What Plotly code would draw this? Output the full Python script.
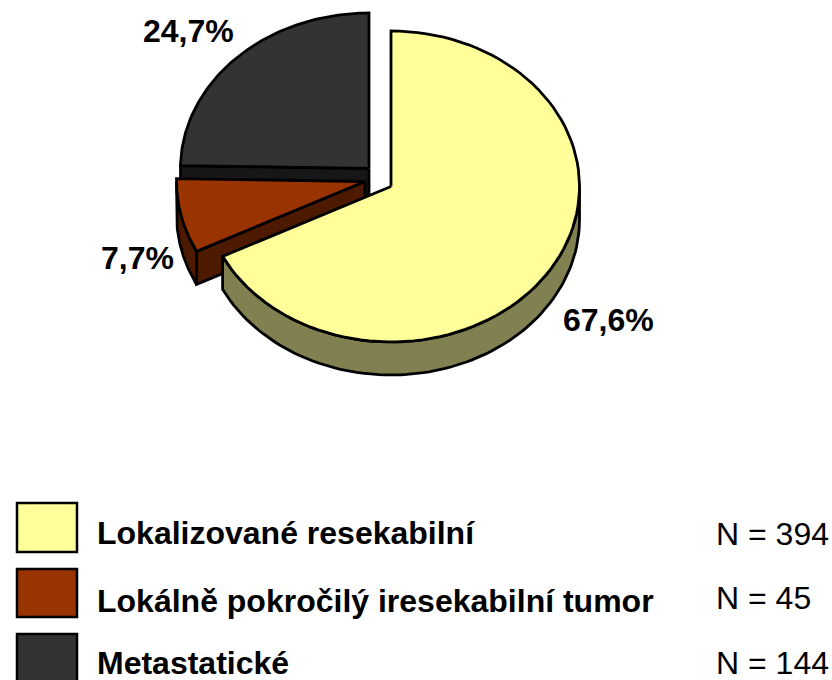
import math
import plotly.graph_objects as go

categories = ["Lokalizované resekabilní", "Lokálně pokročilý iresekabilní tumor", "Metastatické"]
counts = [394, 45, 144]
share_labels = ["67,6%", "7,7%", "24,7%"]
count_labels = ["N = 394", "N = 45", "N = 144"]
top_colors = ["#ffff99", "#993300", "#333333"]
side_colors = ["#808050", "#4d1a00", "#171717"]

RX, RY, DEPTH = 188.5, 155.5, 33
centres = [(391, 186.5), (365, 181.5), (369, 168.5)]
label_pos = [(608, 320), (137, 258), (188, 31)]
legend_rows = [(503, 552, 533, 534), (569, 617, 601, 598), (634, 690, 663, 663)]


def rim(c, a0, a1, dy=0, n=90):
    xs, ys = [], []
    for i in range(n + 1):
        t = math.radians(a0 + (a1 - a0) * i / n)
        xs.append(c[0] + RX * math.sin(t))
        ys.append(c[1] - RY * math.cos(t) + dy)
    return xs, ys


total = sum(counts)
bounds = [0]
for v in counts:
    bounds.append(bounds[-1] + 360 * v / total)

fig = go.Figure()


def poly(xs, ys, color):
    fig.add_trace(go.Scatter(x=xs + xs[:1], y=ys + ys[:1], mode="lines", fill="toself",
                             fillcolor=color, line=dict(color="black", width=2.8),
                             hoverinfo="skip", showlegend=False))


for i in (2, 1, 0):
    c, a0, a1 = centres[i], bounds[i], bounds[i + 1]
    # radial wall on the slice's start edge, when it faces the viewer
    if i in (1, 2):
        ex, ey = rim(c, a0, a0, n=1)
        poly([c[0], ex[0], ex[0], c[0]], [c[1], ey[0], ey[0] + DEPTH, c[1] + DEPTH], side_colors[i])
    # outer rim wall on the front half
    f0, f1 = max(a0, 90), min(a1, 270)
    if f1 > f0:
        tx, ty = rim(c, f0, f1)
        bx, by = rim(c, f1, f0, DEPTH)
        poly(tx + bx, ty + by, side_colors[i])
    # top face
    tx, ty = rim(c, a0, a1)
    poly([c[0]] + tx, [c[1]] + ty, top_colors[i])

ann = []
for (x, y), s in zip(label_pos, share_labels):
    ann.append(dict(x=x, y=y, text=f"<b>{s}</b>", showarrow=False, xanchor="center", yanchor="middle",
                    font=dict(family="Liberation Sans", size=32, color="black")))

shapes = []
for (top, bottom, ty, ny), name, n, col in zip(legend_rows, categories, count_labels, top_colors):
    shapes.append(dict(type="rect", x0=17, x1=77, y0=top, y1=bottom, xref="x", yref="y",
                       fillcolor=col, line=dict(color="black", width=2.5)))
    ann.append(dict(x=95, y=ty, text=f"<b>{name}</b>", showarrow=False, xanchor="left", yanchor="middle",
                    font=dict(family="Liberation Sans", size=32, color="black")))
    ann.append(dict(x=714, y=ny, text=n, showarrow=False, xanchor="left", yanchor="middle",
                    font=dict(family="Liberation Sans", size=32, color="black")))

fig.update_layout(width=832, height=680, margin=dict(l=0, r=0, t=0, b=0),
                  paper_bgcolor="white", plot_bgcolor="white", showlegend=False,
                  annotations=ann, shapes=shapes,
                  xaxis=dict(range=[0, 832], visible=False, fixedrange=True),
                  yaxis=dict(range=[680, 0], visible=False, fixedrange=True))
fig.write_html("out.html", config=dict(displayModeBar=False),
               post_script="document.body.style.margin='0';document.documentElement.style.overflow='hidden';")
